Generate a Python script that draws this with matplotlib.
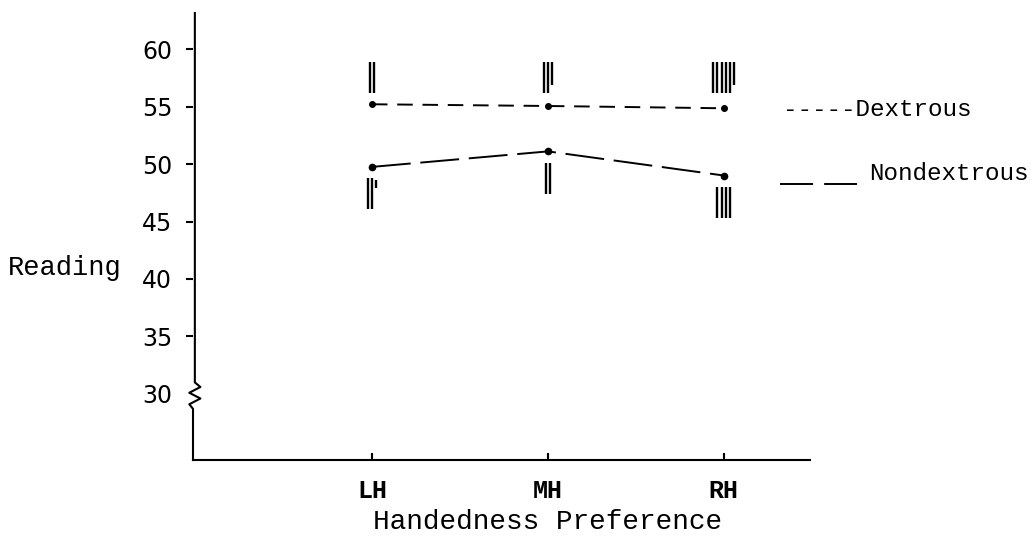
import matplotlib
matplotlib.use("Agg")
import matplotlib.pyplot as plt
import matplotlib.transforms as mtransforms

# ---- data ----
categories = ["LH", "MH", "RH"]
dextrous = [55.2, 55.05, 54.85]
nondextrous = [49.75, 51.1, 49.0]
# tally-like stroke counts drawn near each point (above for Dextrous, below for Nondextrous)
dex_tally = [2, 3, 6]
nondex_tally = [3, 2, 4]
yticks = [30, 35, 40, 45, 50, 55, 60]
ytick_labels = ["30", "35", "40", "45", "50", "55", "60"]
x_label = "Handedness Preference"
y_label = "Reading"

mono = ["Liberation Mono", "DejaVu Sans Mono"]

fig = plt.figure(figsize=(10.34, 5.36), dpi=100)
ax = fig.add_axes([193/1034, 1-460/536, (810-193)/1034, (460-13)/536])

x = list(range(len(categories)))
ax.plot(x, dextrous, color="black", lw=1.4, linestyle=(0, (8, 5)),
        marker="o", ms=4, markerfacecolor="black")
ax.plot(x, nondextrous, color="black", lw=1.4, linestyle=(0, (20, 5)),
        marker="o", ms=4.5, markerfacecolor="black")

ax.set_xlim(-1.017, 2.49)
ax.set_ylim(24.25, 63.14)

# tally strokes above Dextrous points
for xi, n in zip(x, dex_tally):
    offs = 0.024
    start = xi - offs * (n - 1) / 2
    for k in range(n):
        top = 58.9
        bot = 56.2 if (k < n - 1 or n < 3) else 56.9
        ax.vlines(start + k * offs, bot, top, color="black", lw=1.7)
# tally strokes below Nondextrous points
for xi, n, yv in zip(x, nondex_tally, nondextrous):
    offs = 0.024
    start = xi - offs * (n - 1) / 2
    top = yv - 1.0
    for k in range(n):
        short = (k == n - 1 and n == 3)
        t = top if not short else top - 0.1
        b = top - 2.7 if not short else top - 0.8
        ax.vlines(start + k * offs, b, t, color="black", lw=1.7)

# spines
for s in ["top", "right", "left"]:
    ax.spines[s].set_visible(False)
ax.spines["bottom"].set_linewidth(1.5)

# left axis with a zigzag break at 30
trans = mtransforms.blended_transform_factory(ax.transAxes, ax.transData)
w = 0.009
zx = [0.003, 0.003, 0.003 + w, 0.003 - w, 0.003 + w, 0.003 - w, 0.0, 0.0]
zy = [63.14, 31.0, 30.6, 30.1, 29.6, 29.1, 28.7, 24.25]
ax.plot(zx, zy, color="black", lw=1.5, transform=trans, clip_on=False)

ax.set_yticks(yticks)
ax.set_yticklabels(ytick_labels, fontsize=17, family=["DejaVu Sans"])
ax.tick_params(axis="y", direction="out", length=5, width=1.5, pad=10)
ax.yaxis.get_major_ticks()[0].tick1line.set_visible(False)

ax.set_xticks(x)
ax.set_xticklabels(categories, fontsize=18, family=mono, fontweight="bold")
ax.tick_params(axis="x", direction="in", length=5, width=1.5, pad=14)

fig.text(548/1034, 1-522/536, x_label, fontsize=20, family=mono, va="center", ha="center")
fig.text(8/1034, 1-268/536, y_label, fontsize=19.5, family=mono, va="center", ha="left")

# legend drawn as text
fig.text(783/1034, 1-110/536, "-----Dextrous", fontsize=17.5, family=mono, va="center", ha="left")
fig.text(869/1034, 1-174/536, "Nondextrous", fontsize=17.5, family=mono, va="center", ha="left")
fig.add_artist(plt.Line2D([780/1034, 857/1034], [1-184/536, 1-184/536],
                          color="black", lw=1.4, linestyle=(0, (17, 5.7))))

fig.savefig("out.png", dpi=100)
